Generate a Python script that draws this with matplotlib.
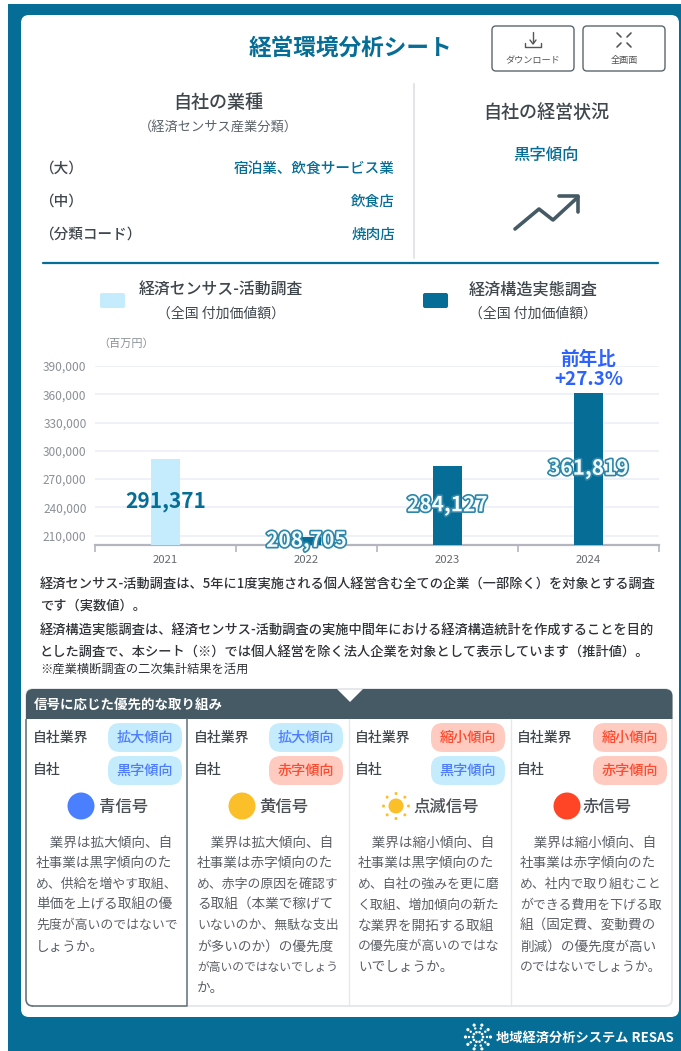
#!/usr/bin/env python3
"""
経営環境分析シート (RESAS) recreated with matplotlib.
"""
import matplotlib

matplotlib.use("Agg")
import matplotlib.patheffects as pe
import matplotlib.pyplot as plt
import numpy as np
from matplotlib.patches import Circle, FancyBboxPatch, PathPatch, Rectangle
from matplotlib.path import Path

plt.rcParams["font.family"] = ["Noto Sans CJK JP", "DejaVu Sans"]

W, H = 681, 1051

# chart data
years = ["2021", "2022", "2023", "2024"]
values = [291371, 208705, 284127, 361819]
y_ticks = [210000, 240000, 270000, 300000, 330000, 360000, 390000]
y_min, y_max = 200000, 390000

# panel data
industry_state = ["拡大傾向", "拡大傾向", "縮小傾向", "縮小傾向"]
own_state = ["黒字傾向", "赤字傾向", "黒字傾向", "赤字傾向"]
signal_names = ["青信号", "黄信号", "点滅信号", "赤信号"]
body_lines = [
    ["　業界は拡大傾向、自", "社事業は黒字傾向のた", "め、供給を増やす取組、", "単価を上げる取組の優",
     "先度が高いのではないで", "しょうか。"],
    ["　業界は拡大傾向、自", "社事業は赤字傾向のた", "め、赤字の原因を確認す", "る取組（本業で稼げて",
     "いないのか、無駄な支出", "が多いのか）の優先度", "が高いのではないでしょう", "か。"],
    ["　業界は縮小傾向、自", "社事業は黒字傾向のた", "め、自社の強みを更に磨", "く取組、増加傾向の新た",
     "な業界を開拓する取組", "の優先度が高いのではな", "いでしょうか。"],
    ["　業界は縮小傾向、自", "社事業は赤字傾向のた", "め、社内で取り組むこと", "ができる費用を下げる取",
     "組（固定費、変動費の", "削減）の優先度が高い", "のではないでしょうか。"],
]
notes = [
    (583, "経済センサス-活動調査は、5年に1度実施される個人経営含む全ての企業（一部除く）を対象とする調査", 9.5),
    (604, "です（実数値）。", 9.5),
    (629, "経済構造実態調査は、経済センサス-活動調査の実施中間年における経済構造統計を作成することを目的", 9.5),
    (650, "とした調査で、本シート（※）では個人経営を除く法人企業を対象として表示しています（推計値）。", 9.5),
    (668, "※産業横断調査の二次集計結果を活用", 8.8),
]

TEAL = "#066d96"
LIGHT = "#c5ecfd"
SLATE = "#455a64"
TEXT = "#3f474d"
GREY = "#8b9096"
BLUE = "#2e62ff"
PILL_BLUE = "#4d7cff"
PILL_RED = "#ff4a2e"
PILL_RED_BG = "#ffcabf"
SIGNAL_COLORS = ["#4a80ff", "#fbbf29", "#fbbf29", "#ff4525"]

fig = plt.figure(figsize=(W / 100, H / 100), dpi=100, facecolor="white")

# pixel coordinate layer for the sheet
bg = fig.add_axes([0, 0, 1, 1])
bg.set_xlim(0, W)
bg.set_ylim(H, 0)
bg.axis("off")


def text(x, y, s, size, color=TEXT, ha="center", weight="normal", **kw):
    # the CJK font sits a little high when centred
    return bg.text(x, y + 1.5, s, fontsize=size, color=color, ha=ha, va="center", weight=weight, **kw)


def box(x0, y0, x1, y1, r, fc, ec="none", lw=0, z=1):
    p = FancyBboxPatch((x0 + r, y0 + r), x1 - x0 - 2 * r, y1 - y0 - 2 * r,
                       boxstyle=f"round,pad={r}", fc=fc, ec=ec, lw=lw, zorder=z)
    bg.add_patch(p)


def line(xs, ys, color, lw, z=3):
    bg.plot(xs, ys, color=color, lw=lw, solid_capstyle="round", solid_joinstyle="round", zorder=z)


# frame and card
bg.add_patch(Rectangle((8, 4), W - 8, H - 4, fc=TEAL, ec="none", zorder=0))
box(21, 15, 679, 1017, 8, "white")

# title and buttons
text(350, 47, "経営環境分析シート", 16.3, TEAL, weight="bold", zorder=4)
box(492, 26, 574, 71, 4, "white", "#5c666d", 1.0, z=2)
box(583, 26, 665, 71, 4, "white", "#5c666d", 1.0, z=2)
text(533, 59, "ダウンロード", 6.6, "#555555")
text(624, 59, "全画面", 6.6, "#555555")
line([533, 533], [32, 43], "#555555", 1.0)
line([530, 533, 536], [40, 44, 40], "#555555", 1.0)
line([525, 525, 541, 541], [43, 47, 47, 43], "#555555", 1.0)
for sx, sy in [(-1, -1), (1, -1), (-1, 1), (1, 1)]:
    line([624 + sx * 3, 624 + sx * 7], [40 + sy * 3, 40 + sy * 7], "#555555", 1.2)

# industry block
text(218, 101, "自社の業種", 13, weight="medium")
text(218, 127, "（経済センサス産業分類）", 9.5, "#5a6269")
for y, label, val in [(167, "（大）", "宿泊業、飲食サービス業"), (200, "（中）", "飲食店"), (233, "（分類コード）", "焼肉店")]:
    text(39, y, label, 10.5, ha="left", weight="medium")
    text(395, y, val, 10.5, TEAL, ha="right", weight="medium")

# business status block
line([414, 414], [84, 258], "#e3e5ea", 1.5)
text(546, 111, "自社の経営状況", 13, weight="medium")
text(546, 154, "黒字傾向", 11.8, TEAL, weight="medium")
line([515, 539, 553, 578], [229, 209, 220, 197], SLATE, 2.6)
line([559, 578, 578], [196, 196, 212], SLATE, 2.6)
line([43, 658], [263, 263], TEAL, 1.6)

# legend
box(100, 293, 125, 308, 2, LIGHT)
box(423, 293, 448, 308, 2, TEAL)
text(221, 289, "経済センサス-活動調査", 11.4, weight="medium")
text(221, 312, "（全国 付加価値額）", 10)
text(533, 289, "経済構造実態調査", 11.6, weight="medium")
text(533, 312, "（全国 付加価値額）", 10)
text(98, 342, "（百万円）", 8, GREY, ha="left")

# bar chart
ax = fig.add_axes([95 / W, 1 - 545 / H, (659 - 95) / W, (545 - 366) / H], facecolor="none")
positions = np.arange(len(years))
bar_colors = [LIGHT, TEAL, TEAL, TEAL]
ax.bar(positions, values, width=0.2, color=bar_colors, zorder=3)
ax.set_xlim(-0.5, 3.5)
ax.set_ylim(y_min, y_max)
ax.set_yticks(y_ticks)
ax.set_yticklabels([f"{v:,}" for v in y_ticks], fontsize=8.6, color=GREY)
ax.set_xticks(positions)
ax.set_xticklabels(years, fontsize=8.2, color="#666b70")
ax.set_xticks(np.arange(-0.5, 4), minor=True)
ax.tick_params(axis="y", length=0, pad=6)
ax.tick_params(axis="x", which="major", length=0, pad=7)
ax.tick_params(axis="x", which="minor", length=5, width=1.2, color="#b4b6bf")
ax.grid(axis="y", color="#eef1f8", lw=1.4, zorder=0)
for name in ["top", "left", "right"]:
    ax.spines[name].set_visible(False)
ax.spines["bottom"].set_color("#b4b6bf")
ax.spines["bottom"].set_linewidth(1.6)

for i, v in enumerate(values):
    mid = (v + y_min) / 2
    if i == 0:
        ax.text(i, mid, f"{v:,}", fontsize=15, color=TEAL, weight="bold", ha="center", va="center", zorder=5)
    else:
        ax.text(i, mid, f"{v:,}", fontsize=15, color="#f2fbff", weight="bold", ha="center", va="center", zorder=5,
                path_effects=[pe.Stroke(linewidth=2.4, foreground="#2f86a8"), pe.Normal()])

yoy = (values[3] / values[2] - 1) * 100
ax.annotate("前年比", (3, values[3]), xytext=(0, 33), textcoords="offset pixels", ha="center", va="center",
            fontsize=13.4, color=BLUE, weight="bold", zorder=5, annotation_clip=False)
ax.annotate(f"+{yoy:.1f}%", (3, values[3]), xytext=(0, 13), textcoords="offset pixels", ha="center", va="center",
            fontsize=13.6, color=BLUE, weight="bold", zorder=5, annotation_clip=False)

# notes
for y, s, size in notes:
    text(40, y, s, size, "#2f3337", ha="left", weight="medium" if size > 9 else "normal")

# signal panel
column_x = [26, 187, 349, 511, 672]
panel_top, panel_mid, panel_bottom = 689, 719, 1006
box(26, panel_top, 672, panel_bottom, 7, "white", "#e6e8ec", 1.4, z=1)
verts = [(26, panel_mid), (26, panel_top + 7), (26, panel_top), (33, panel_top), (337, panel_top), (350, 702),
         (363, panel_top), (665, panel_top), (672.5, panel_top), (672.5, panel_top + 7), (672.5, panel_mid), (26, panel_mid)]
codes = [Path.MOVETO, Path.LINETO, Path.CURVE3, Path.CURVE3, Path.LINETO, Path.LINETO, Path.LINETO, Path.LINETO,
         Path.CURVE3, Path.CURVE3, Path.LINETO, Path.CLOSEPOLY]
bg.add_patch(PathPatch(Path(verts, codes), fc=SLATE, ec="none", zorder=2))
text(34, 703, "信号に応じた優先的な取り組み", 9.7, "white", ha="left", weight="bold", zorder=4)
line([349, 349], [panel_mid, panel_bottom], "#e6e8ec", 1.0, z=2)
line([511, 511], [panel_mid, panel_bottom], "#e6e8ec", 1.0, z=2)
# selected column
bg.plot([187, 187, 33], [panel_mid, panel_bottom, panel_bottom], color="#5f6f79", lw=1.1, zorder=3)
bg.add_patch(PathPatch(Path([(26, panel_mid), (26, panel_bottom - 7), (26, panel_bottom), (33, panel_bottom)],
                            [Path.MOVETO, Path.LINETO, Path.CURVE3, Path.CURVE3]),
                       fc="none", ec="#5f6f79", lw=1.1, zorder=3))

pill_left = [108, 269, 431, 593]
label_x = [33, 194, 355, 517]
signal_x = [81, 242, 396, 567]
signal_text_x = [99, 259, 413, 583]
body_x = [36, 197, 358, 520]


def pill(x0, y0, s):
    is_red = s in ("縮小傾向", "赤字傾向")
    box(x0, y0, x0 + 74, y0 + 29, 12, PILL_RED_BG if is_red else LIGHT, z=2)
    text(x0 + 37, y0 + 13, s, 10.2, PILL_RED if is_red else PILL_BLUE, weight="medium", zorder=4)


for c in range(4):
    text(label_x[c], 736.5, "自社業界", 10, ha="left", weight="medium")
    text(label_x[c], 768.5, "自社", 10, ha="left", weight="medium")
    pill(pill_left[c], 723, industry_state[c])
    pill(pill_left[c], 756, own_state[c])
    if c == 2:
        bg.add_patch(Circle((signal_x[c], 806), 7.5, fc=SIGNAL_COLORS[c], ec="none", zorder=3))
        for a in np.deg2rad(np.arange(0, 360, 45)):
            bg.add_patch(Circle((signal_x[c] + 12.5 * np.cos(a), 806 + 12.5 * np.sin(a)), 1.5,
                                fc=SIGNAL_COLORS[c], ec="none", zorder=3))
    else:
        bg.add_patch(Circle((signal_x[c], 806), 13.5, fc=SIGNAL_COLORS[c], ec="none", zorder=3))
    text(signal_text_x[c], 805.5, signal_names[c], 11.8, "#4a5056", ha="left", weight="medium")
    for i, s in enumerate(body_lines[c]):
        # the original sets kana narrower, so long lines are fitted to the column width
        size = min(9.8, 142 / len(s) / 1.39)
        text(body_x[c], 841 + i * 20.8, s, size, "#5b6066", ha="left")

# footer logo
for a in np.deg2rad(np.arange(0, 360, 36)):
    for r, size in [(5, 1.3), (9, 1.2), (12.5, 1.6)]:
        bg.add_patch(Circle((478 + r * np.cos(a), 1037 + r * np.sin(a)), size, fc="white", ec="none", zorder=3))
text(496, 1036, "地域経済分析システム RESAS", 9.5, "white", ha="left", weight="bold")

fig.savefig("out.png", dpi=100)
